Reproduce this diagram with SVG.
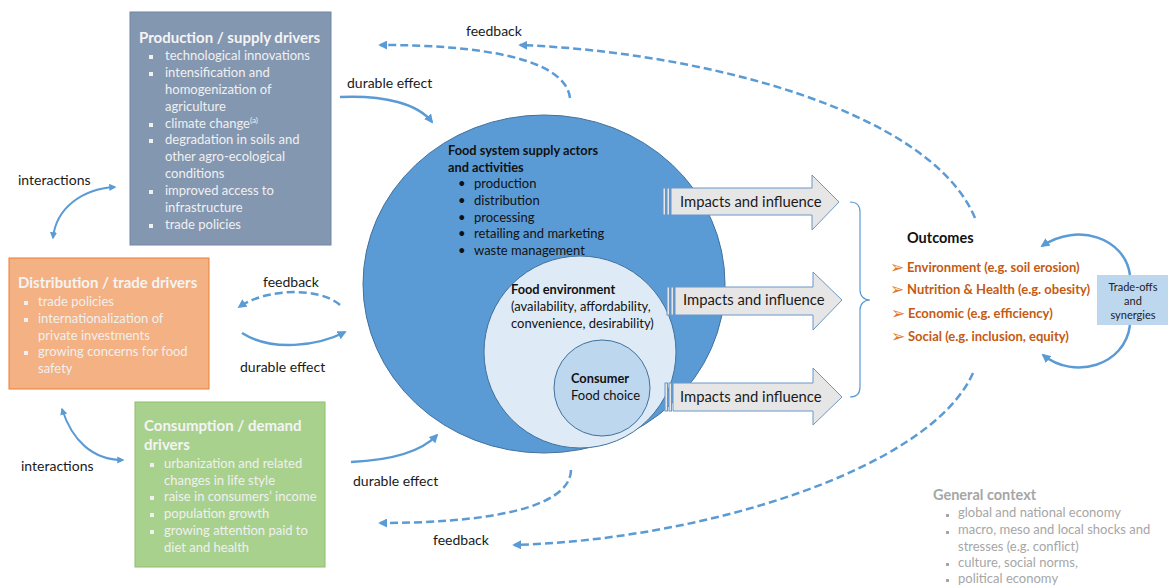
<svg xmlns="http://www.w3.org/2000/svg" width="1168" height="587" viewBox="0 0 1168 587">
<defs>
<marker id="ah" viewBox="0 0 10 10" refX="8" refY="5" markerWidth="3.6" markerHeight="3.6" orient="auto-start-reverse" markerUnits="strokeWidth">
<path d="M0,0 L10,5 L0,10 Z" fill="#5b9bd5"/>
</marker>
<style>
text{font-family:Lato,"Open Sans","Liberation Sans",sans-serif;}
.lbl{font-size:14px;fill:#1a1a1a;}
.hd{font-size:15px;font-weight:bold;fill:#f4f4f4;}
.bt{font-size:13px;fill:#f0f0f0;}
.sq{fill:#f0f0f0;}
.blk{font-size:13px;fill:#111;}
.blkb{font-size:12.8px;fill:#111;font-weight:bold;}
.imp{font-size:14.8px;fill:#1a1a1a;}
.oc{font-size:13px;fill:#c55a11;font-weight:bold;}
.ob{font-family:"DejaVu Sans",sans-serif;font-size:17px;fill:#e07a30;}
.gc{fill:#a6a6a6;font-size:13px;}
.solid{fill:none;stroke:#5b9bd5;stroke-width:2.5;marker-end:url(#ah);}
.dash{fill:none;stroke:#5b9bd5;stroke-width:2.5;stroke-dasharray:8 4;marker-end:url(#ah);}
.dbl{fill:none;stroke:#5b9bd5;stroke-width:2;marker-end:url(#ah);marker-start:url(#ah);}
.barr{fill:#e7e6e6;stroke:#6a96c8;stroke-width:1;}
</style>
</defs>

<g id="production">
<rect x="130" y="12" width="201" height="233" fill="#8497b0" stroke="#6f86a6" stroke-width="1"/>
<text class="hd" x="139" y="43">Production / supply drivers</text>
<g class="sq">
<rect x="149" y="55" width="4" height="4"/><rect x="149" y="72" width="4" height="4"/><rect x="149" y="123" width="4" height="4"/><rect x="149" y="139" width="4" height="4"/><rect x="149" y="190" width="4" height="4"/><rect x="149" y="224" width="4" height="4"/>
</g>
<text class="bt" x="165" y="60">technological innovations</text>
<text class="bt" x="165" y="77">intensification and</text>
<text class="bt" x="165" y="94">homogenization of</text>
<text class="bt" x="165" y="111">agriculture</text>
<text class="bt" x="165" y="128">climate change<tspan font-size="8" dy="-5">(a)</tspan></text>
<text class="bt" x="165" y="144">degradation in soils and</text>
<text class="bt" x="165" y="161">other agro-ecological</text>
<text class="bt" x="165" y="178">conditions</text>
<text class="bt" x="165" y="195">improved access to</text>
<text class="bt" x="165" y="212">infrastructure</text>
<text class="bt" x="165" y="229">trade policies</text>
</g>

<g id="distribution">
<rect x="9" y="258" width="200" height="131" fill="#f4b183" stroke="#ed7d31" stroke-width="1"/>
<text class="hd" x="18" y="288">Distribution / trade drivers</text>
<g class="sq"><rect x="24" y="301" width="4" height="4"/><rect x="24" y="318" width="4" height="4"/><rect x="24" y="351" width="4" height="4"/></g>
<text class="bt" x="38" y="306">trade policies</text>
<text class="bt" x="38" y="323">internationalization of</text>
<text class="bt" x="38" y="340">private investments</text>
<text class="bt" x="38" y="356">growing concerns for food</text>
<text class="bt" x="38" y="373">safety</text>
</g>

<g id="consumption">
<rect x="135" y="402" width="190" height="165" fill="#a9d18e" stroke="#8cc068" stroke-width="1"/>
<text class="hd" x="144" y="431">Consumption / demand</text>
<text class="hd" x="144" y="450">drivers</text>
<g class="sq"><rect x="150" y="463" width="4" height="4"/><rect x="150" y="496" width="4" height="4"/><rect x="150" y="513" width="4" height="4"/><rect x="150" y="530" width="4" height="4"/></g>
<text class="bt" x="164" y="468">urbanization and related</text>
<text class="bt" x="164" y="485">changes in life style</text>
<text class="bt" x="164" y="501">raise in consumers’ income</text>
<text class="bt" x="164" y="518">population growth</text>
<text class="bt" x="164" y="535">growing attention paid to</text>
<text class="bt" x="164" y="552">diet and health</text>
</g>

<g id="food-system">
<ellipse cx="544" cy="284" rx="181" ry="169" fill="#5b9bd5" stroke="#41719c" stroke-width="1"/>
<text class="blkb" x="448" y="155">Food system supply actors</text>
<text class="blkb" x="448" y="172">and activities</text>
<g class="blk">
<text x="458" y="188">•</text><text x="474" y="188">production</text>
<text x="458" y="205">•</text><text x="474" y="205">distribution</text>
<text x="458" y="222">•</text><text x="474" y="222">processing</text>
<text x="458" y="238">•</text><text x="474" y="238">retailing and marketing</text>
<text x="458" y="255">•</text><text x="474" y="255">waste management</text>
</g>
</g>

<g id="food-environment">
<circle cx="580" cy="352" r="96" fill="#deebf7" stroke="#41719c" stroke-width="1"/>
<text class="blkb" x="511" y="294">Food environment</text>
<text class="blk" x="511" y="311" fill="#333">(availability, affordability,</text>
<text class="blk" x="511" y="328" fill="#333">convenience, desirability)</text>
</g>

<g id="consumer">
<circle cx="602" cy="388" r="48" fill="#bdd7ee" stroke="#41719c" stroke-width="1"/>
<text class="blkb" x="571" y="383">Consumer</text>
<text class="blk" x="571" y="400" fill="#333">Food choice</text>
</g>

<g id="impacts-1">
<rect class="barr" x="663" y="188" width="2.5" height="27"/><rect class="barr" x="667" y="188" width="2.5" height="27"/>
<path class="barr" d="M671,188 L812,188 L812,175 L839,202 L812,230 L812,215 L671,215 Z"/>
<text class="imp" x="680" y="207">Impacts and influence</text>
</g>
<g id="impacts-2">
<rect class="barr" x="667" y="287" width="2.5" height="28"/><rect class="barr" x="671" y="287" width="2.5" height="28"/>
<path class="barr" d="M675,287 L813,287 L813,272 L842,300 L813,330 L813,315 L675,315 Z"/>
<text class="imp" x="683" y="305">Impacts and influence</text>
</g>
<g id="impacts-3">
<rect class="barr" x="665" y="383" width="2.5" height="28"/><rect class="barr" x="669" y="383" width="2.5" height="28"/>
<path class="barr" d="M673,383 L813,383 L813,368 L842,397 L813,425 L813,411 L673,411 Z"/>
<text class="imp" x="680" y="402">Impacts and influence</text>
</g>

<g id="outcomes">
<text x="907" y="243" font-size="14.5" font-weight="bold" fill="#111">Outcomes</text>
<text class="ob" x="890" y="273">➢</text>
<text class="ob" x="890" y="295">➢</text>
<text class="ob" x="891" y="319">➢</text>
<text class="ob" x="891" y="342">➢</text>
<text class="oc" x="907" y="272">Environment (e.g. soil erosion)</text>
<text class="oc" x="907" y="294">Nutrition &amp; Health (e.g. obesity)</text>
<text class="oc" x="908" y="318">Economic (e.g. efficiency)</text>
<text class="oc" x="908" y="341">Social (e.g. inclusion, equity)</text>
</g>

<g id="trade-offs">
<rect x="1097" y="275" width="71" height="50" fill="#bdd7ee"/>
<text x="1133" y="291" font-size="11" fill="#222" text-anchor="middle">Trade-offs</text>
<text x="1133" y="305" font-size="11" fill="#222" text-anchor="middle">and</text>
<text x="1133" y="319" font-size="11" fill="#222" text-anchor="middle">synergies</text>
</g>

<g id="general-context">
<text x="933" y="500" font-size="14.5" font-weight="bold" fill="#a6a6a6">General context</text>
<g fill="#a6a6a6"><rect x="946" y="514" width="3" height="3"/><rect x="946" y="531" width="3" height="3"/><rect x="946" y="563" width="3" height="3"/><rect x="946" y="579" width="3" height="3"/></g>
<text class="gc" x="958" y="517">global and national economy</text>
<text class="gc" x="958" y="534">macro, meso and local shocks and</text>
<text class="gc" x="958" y="551">stresses (e.g. conflict)</text>
<text class="gc" x="958" y="567">culture, social norms,</text>
<text class="gc" x="958" y="583">political economy</text>
</g>

<g id="connectors">
<path class="solid" d="M340,97 C385,95 418,104 432,122"/>
<path class="solid" d="M242,333 C272,352 318,346 345,332"/>
<path class="solid" d="M351,462 C395,460 422,451 437,435"/>
<path class="dash" d="M570,98 C565,58 480,45 380,45"/>
<path class="dash" d="M975,218 C930,110 700,52 520,45"/>
<path class="dash" d="M340,305 C318,286 265,289 239,307"/>
<path class="dash" d="M571,470 C570,510 480,523 380,523"/>
<path class="dash" d="M973,373 C930,470 700,540 514,545"/>
<path class="dbl" d="M53,238 C56,208 82,189 115,187"/>
<path class="dbl" d="M62,409 C72,440 92,460 123,460"/>
<path class="solid" stroke-width="2" d="M1130,275 C1125,238 1078,222 1042,246"/>
<path class="solid" stroke-width="2" d="M1130,325 C1125,366 1074,380 1043,355"/>
<path d="M850,202 C857,202 860,205 860,212 L860,290 C860,296 864,300 870,300 C864,300 860,304 860,310 L860,387 C860,394 857,397 850,397" fill="none" stroke="#5b9bd5" stroke-width="1.2"/>
</g>

<g id="labels">
<text class="lbl" x="466" y="36">feedback</text>
<text class="lbl" x="347" y="88">durable effect</text>
<text class="lbl" x="263" y="287">feedback</text>
<text class="lbl" x="240" y="372">durable effect</text>
<text class="lbl" x="353" y="486">durable effect</text>
<text class="lbl" x="433" y="545">feedback</text>
<text class="lbl" x="18" y="185" font-size="13">interactions</text>
<text class="lbl" x="21" y="471" font-size="13">interactions</text>
</g>
</svg>
